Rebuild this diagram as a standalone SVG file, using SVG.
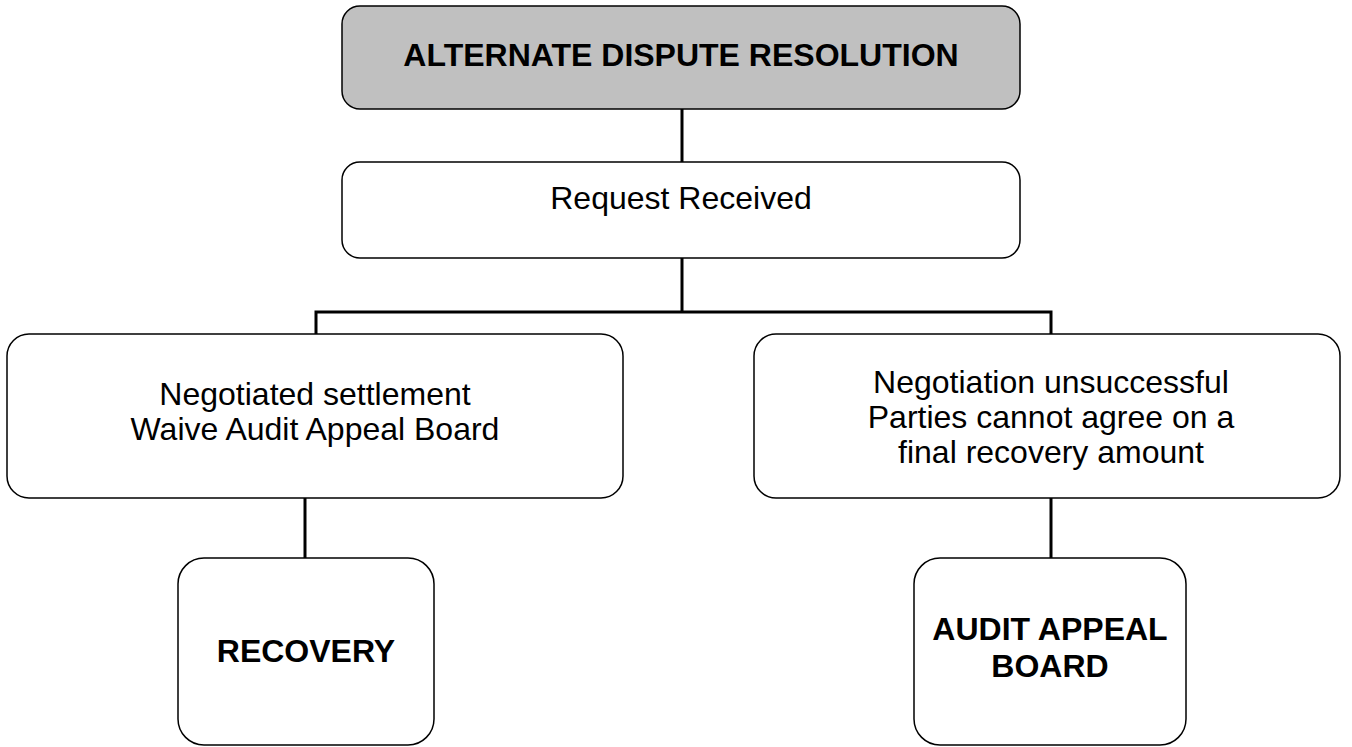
<svg xmlns="http://www.w3.org/2000/svg" width="1352" height="747" viewBox="0 0 1352 747">
<style>
.box{fill:#fff;stroke:#000;stroke-width:1.5}
.gray{fill:#c0c0c0}
.t{font-family:"Liberation Sans",Arial,sans-serif;font-size:32px;text-anchor:middle;fill:#000}
.b{font-weight:bold}
.c{fill:none;stroke:#000;stroke-width:3}
</style>
<rect width="1352" height="747" fill="#fff"/>
<g id="connectors">
<path class="c" d="M682,109V162"/>
<path class="c" d="M682,258V312"/>
<path class="c" d="M316,334V312H1051V334"/>
<path class="c" d="M305,498V558"/>
<path class="c" d="M1051,498V558"/>
</g>
<g id="adr">
<rect class="box gray" x="342" y="6" width="678" height="103" rx="18"/>
<text class="t b" x="681" y="66">ALTERNATE DISPUTE RESOLUTION</text>
</g>
<g id="request">
<rect class="box" x="342" y="162" width="678" height="96" rx="18"/>
<text class="t" x="681" y="209">Request Received</text>
</g>
<g id="negotiated">
<rect class="box" x="7" y="334" width="616" height="164" rx="22"/>
<text class="t" x="315" y="405">Negotiated settlement</text>
<text class="t" x="315" y="440">Waive Audit Appeal Board</text>
</g>
<g id="unsuccessful">
<rect class="box" x="754" y="334" width="586" height="164" rx="22"/>
<text class="t" x="1051" y="393">Negotiation unsuccessful</text>
<text class="t" x="1051" y="428">Parties cannot agree on a</text>
<text class="t" x="1051" y="463">final recovery amount</text>
</g>
<g id="recovery">
<rect class="box" x="178" y="558" width="256" height="187" rx="26"/>
<text class="t b" x="306" y="662">RECOVERY</text>
</g>
<g id="aab">
<rect class="box" x="914" y="558" width="272" height="187" rx="26"/>
<text class="t b" x="1050" y="640">AUDIT APPEAL</text>
<text class="t b" x="1050" y="677">BOARD</text>
</g>
</svg>
